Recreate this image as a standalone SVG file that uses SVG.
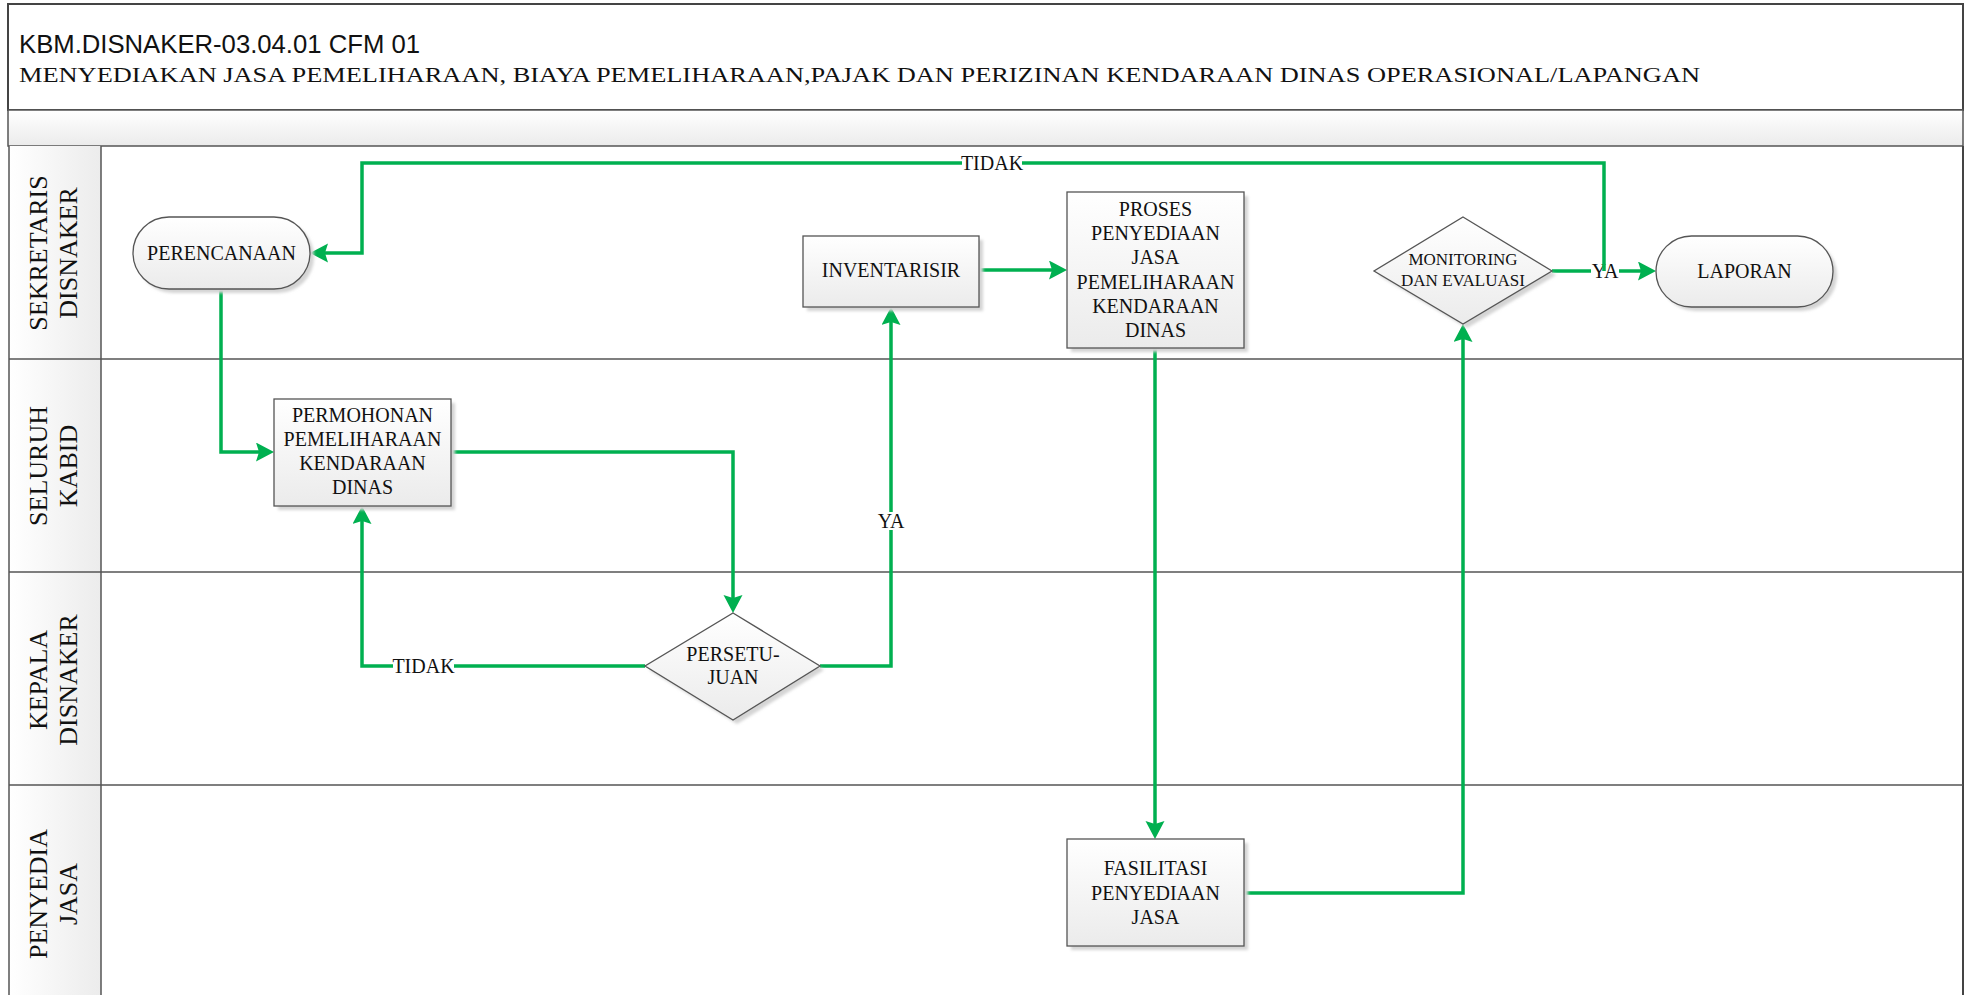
<svg xmlns="http://www.w3.org/2000/svg" width="1964" height="995" viewBox="0 0 1964 995">
  <defs>
    <linearGradient id="vg" x1="0" y1="0" x2="0" y2="1">
      <stop offset="0" stop-color="#ffffff"/>
      <stop offset="1" stop-color="#ebebeb"/>
    </linearGradient>
    <linearGradient id="hg" x1="0" y1="0" x2="1" y2="0">
      <stop offset="0" stop-color="#ffffff"/>
      <stop offset="1" stop-color="#ececec"/>
    </linearGradient>
    <filter id="soft" x="-10%" y="-10%" width="120%" height="120%">
      <feGaussianBlur stdDeviation="1.5"/>
    </filter>
    <marker id="arr" markerUnits="userSpaceOnUse" markerWidth="20" markerHeight="20" refX="3" refY="9.5" orient="auto">
      <path d="M0,0 L18,9.5 L0,19 L3,9.5 Z" fill="#00b050"/>
    </marker>
    <style>
      .frame { fill: none; stroke: #444; stroke-width: 2; }
      .sep { stroke: #555; stroke-width: 1.5; }
      .node { fill: url(#vg); stroke: #555; stroke-width: 1.3; }
      .shd { fill: #d4d4d4; filter: url(#soft); }
      .conn { fill: none; stroke: #00b050; stroke-width: 3.5; }
      .arrow { marker-end: url(#arr); }
      .t { font-family: "Liberation Serif", serif; font-size: 20px; fill: #111; text-anchor: middle; }
      .ts { font-family: "Liberation Serif", serif; font-size: 17px; fill: #111; text-anchor: middle; }
      .lane { font-family: "Liberation Serif", serif; font-size: 26px; fill: #111; text-anchor: middle; }
      .lbl { font-family: "Liberation Serif", serif; font-size: 20px; fill: #111; text-anchor: middle; }
      .bg { fill: #ffffff; }
    </style>
  </defs>

  <rect width="1964" height="995" fill="#ffffff"/>

  <!-- header -->
  <g id="header">
    <rect x="8" y="4" width="1955" height="106" fill="url(#vg)" class="frame"/>
    <rect x="8" y="110" width="1955" height="36" fill="url(#vg)" stroke="#555" stroke-width="1.5"/>
    <text x="19" y="53" font-family="Liberation Sans, Arial, sans-serif" font-size="25" fill="#111" textLength="401" lengthAdjust="spacingAndGlyphs">KBM.DISNAKER-03.04.01 CFM 01</text>
    <text x="19" y="82" font-family="Liberation Serif, serif" font-size="21" fill="#111" textLength="1681" lengthAdjust="spacingAndGlyphs">MENYEDIAKAN JASA PEMELIHARAAN, BIAYA PEMELIHARAAN,PAJAK DAN PERIZINAN KENDARAAN DINAS OPERASIONAL/LAPANGAN</text>
  </g>

  <!-- swimlanes -->
  <g id="lanes">
    <rect x="9" y="146" width="92" height="852" fill="url(#hg)"/>
    <line x1="9" y1="146" x2="9" y2="995" class="sep"/>
    <line x1="1963" y1="146" x2="1963" y2="995" class="frame"/>
    <line x1="101" y1="146" x2="101" y2="995" class="sep"/>
    <line x1="9" y1="359" x2="1963" y2="359" class="sep"/>
    <line x1="9" y1="572" x2="1963" y2="572" class="sep"/>
    <line x1="9" y1="785" x2="1963" y2="785" class="sep"/>
    <text class="lane" transform="translate(47,253) rotate(-90)">SEKRETARIS</text>
    <text class="lane" transform="translate(77,253) rotate(-90)">DISNAKER</text>
    <text class="lane" transform="translate(47,466) rotate(-90)">SELURUH</text>
    <text class="lane" transform="translate(77,466) rotate(-90)">KABID</text>
    <text class="lane" transform="translate(47,680) rotate(-90)">KEPALA</text>
    <text class="lane" transform="translate(77,680) rotate(-90)">DISNAKER</text>
    <text class="lane" transform="translate(47,894) rotate(-90)">PENYEDIA</text>
    <text class="lane" transform="translate(77,894) rotate(-90)">JASA</text>
  </g>

  <!-- connectors -->
  <g id="connectors">
    <path class="conn arrow" d="M221,289 V452 H259"/>
    <path class="conn arrow" d="M451,452 H733 V598"/>
    <path class="conn arrow" d="M645,666 H362 V521"/>
    <path class="conn arrow" d="M820,666 H891 V322"/>
    <path class="conn arrow" d="M979,270 H1052"/>
    <path class="conn arrow" d="M1155,348 V824"/>
    <path class="conn arrow" d="M1244,893 H1463 V339"/>
    <path class="conn arrow" d="M1552,271 H1641"/>
    <g id="label-ya-2">
      <rect class="bg" x="1591" y="262" width="28" height="18"/>
      <text class="lbl" x="1605" y="278">YA</text>
    </g>
    <path class="conn arrow" d="M1604,271 V163 H362 V253 H325"/>
    <g id="label-tidak-1">
      <rect class="bg" x="962" y="154" width="60" height="18"/>
      <text class="lbl" x="992" y="170">TIDAK</text>
    </g>
    <g id="label-tidak-2">
      <rect class="bg" x="393" y="657" width="61" height="18"/>
      <text class="lbl" x="423.5" y="673">TIDAK</text>
    </g>
    <g id="label-ya-1">
      <rect class="bg" x="877" y="512" width="28" height="18"/>
      <text class="lbl" x="891" y="528">YA</text>
    </g>
  </g>

  <!-- nodes -->
  <g id="perencanaan">
    <rect class="shd" x="137" y="221" width="177" height="72" rx="36"/>
    <rect class="node" x="133" y="217" width="177" height="72" rx="36"/>
    <text class="t" x="221.5" y="260">PERENCANAAN</text>
  </g>

  <g id="permohonan">
    <rect class="shd" x="278" y="403" width="177" height="107"/>
    <rect class="node" x="274" y="399" width="177" height="107"/>
    <text class="t" x="362.5" y="422">PERMOHONAN</text>
    <text class="t" x="362.5" y="446">PEMELIHARAAN</text>
    <text class="t" x="362.5" y="470">KENDARAAN</text>
    <text class="t" x="362.5" y="494">DINAS</text>
  </g>

  <g id="persetujuan">
    <path class="shd" d="M737,617 L824,670 L737,724 L649,670 Z"/>
    <path class="node" d="M733,613 L820,666 L733,720 L645,666 Z"/>
    <text class="t" x="733" y="661">PERSETU-</text>
    <text class="t" x="733" y="684">JUAN</text>
  </g>

  <g id="inventarisir">
    <rect class="shd" x="807" y="240" width="176" height="71"/>
    <rect class="node" x="803" y="236" width="176" height="71"/>
    <text class="t" x="891" y="277">INVENTARISIR</text>
  </g>

  <g id="proses">
    <rect class="shd" x="1071" y="196" width="177" height="156"/>
    <rect class="node" x="1067" y="192" width="177" height="156"/>
    <text class="t" x="1155.5" y="216">PROSES</text>
    <text class="t" x="1155.5" y="240">PENYEDIAAN</text>
    <text class="t" x="1155.5" y="264">JASA</text>
    <text class="t" x="1155.5" y="289">PEMELIHARAAN</text>
    <text class="t" x="1155.5" y="313">KENDARAAN</text>
    <text class="t" x="1155.5" y="337">DINAS</text>
  </g>

  <g id="monitoring">
    <path class="shd" d="M1467,221 L1556,275 L1467,328 L1378,275 Z"/>
    <path class="node" d="M1463,217 L1552,271 L1463,324 L1374,271 Z"/>
    <text class="ts" x="1463" y="265">MONITORING</text>
    <text class="ts" x="1463" y="286">DAN EVALUASI</text>
  </g>

  <g id="laporan">
    <rect class="shd" x="1660" y="240" width="177" height="71" rx="35.5"/>
    <rect class="node" x="1656" y="236" width="177" height="71" rx="35.5"/>
    <text class="t" x="1744.5" y="278">LAPORAN</text>
  </g>

  <g id="fasilitasi">
    <rect class="shd" x="1071" y="843" width="177" height="107"/>
    <rect class="node" x="1067" y="839" width="177" height="107"/>
    <text class="t" x="1155.5" y="875">FASILITASI</text>
    <text class="t" x="1155.5" y="900">PENYEDIAAN</text>
    <text class="t" x="1155.5" y="924">JASA</text>
  </g>
</svg>
